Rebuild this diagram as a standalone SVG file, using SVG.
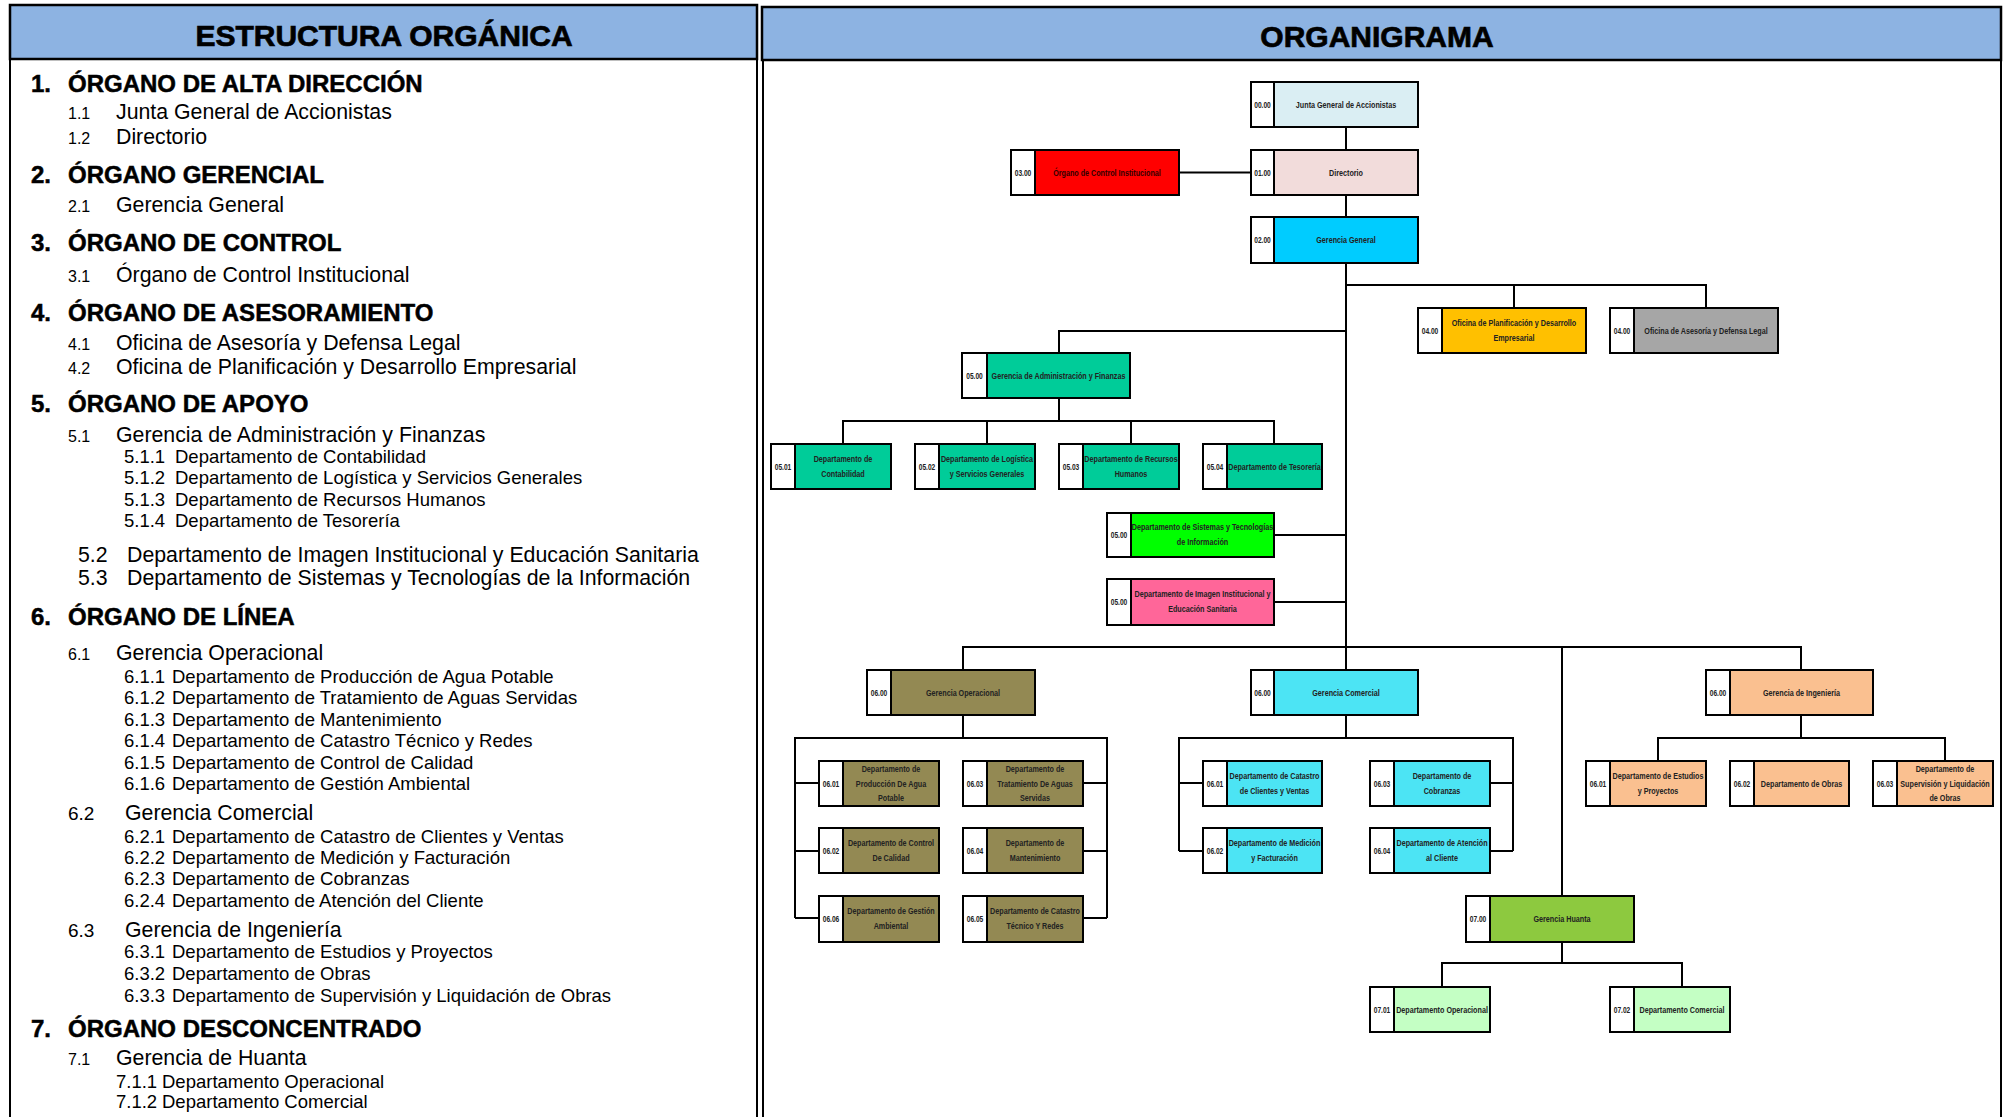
<svg xmlns="http://www.w3.org/2000/svg" width="2004" height="1117" viewBox="0 0 2004 1117">
<style>
.hdr{fill:#8DB3E2;stroke:#000;stroke-width:2.5}
.ht{font-family:"Liberation Sans",Arial,sans-serif;font-weight:bold;font-size:30px;fill:#000;stroke:#000;stroke-width:0.7;text-anchor:middle}
.bd{stroke:#000;stroke-width:2;fill:none}
.h1{font-family:"Liberation Sans",Arial,sans-serif;font-weight:bold;font-size:24px;fill:#000;stroke:#000;stroke-width:0.5}
.l2{font-family:"Liberation Sans",Arial,sans-serif;font-size:21.3px;fill:#000}
.n2{font-family:"Liberation Sans",Arial,sans-serif;font-size:16px;fill:#000}
.n2b{font-family:"Liberation Sans",Arial,sans-serif;font-size:19px;fill:#000}
.l3{font-family:"Liberation Sans",Arial,sans-serif;font-size:18.5px;fill:#000}
.ol{fill:none;stroke:#000;stroke-width:2}
.cc{fill:#fff}
.lb{font-family:"Liberation Sans",Arial,sans-serif;font-weight:bold;font-size:9px;fill:#222;text-anchor:middle}
.cd{font-family:"Liberation Sans",Arial,sans-serif;font-weight:bold;font-size:8.5px;fill:#222;text-anchor:middle}
.conn path{stroke:#000;stroke-width:2;fill:none}
</style>
<rect width="2004" height="1117" fill="#fff"/>
<g id="panels">
<rect class="hdr" x="10" y="5" width="747" height="54"/>
<rect class="hdr" x="762" y="7" width="1239" height="53"/>
<text class="ht" x="384" y="46">ESTRUCTURA ORGÁNICA</text>
<text class="ht" x="1377" y="47">ORGANIGRAMA</text>
<path class="bd" d="M10 59V1117M757 59V1117M763 60V1117M2001 60V1117"/>
</g>
<g id="estructura">
<text class="h1" x="31" y="92">1.</text><text class="h1" x="68" y="92">ÓRGANO DE ALTA DIRECCIÓN</text>
<text class="n2" x="68" y="119">1.1</text><text class="l2" x="116" y="119">Junta General de Accionistas</text>
<text class="n2" x="68" y="144">1.2</text><text class="l2" x="116" y="144">Directorio</text>
<text class="h1" x="31" y="183">2.</text><text class="h1" x="68" y="183">ÓRGANO GERENCIAL</text>
<text class="n2" x="68" y="212">2.1</text><text class="l2" x="116" y="212">Gerencia General</text>
<text class="h1" x="31" y="251">3.</text><text class="h1" x="68" y="251">ÓRGANO DE CONTROL</text>
<text class="n2" x="68" y="282">3.1</text><text class="l2" x="116" y="282">Órgano de Control Institucional</text>
<text class="h1" x="31" y="321">4.</text><text class="h1" x="68" y="321">ÓRGANO DE ASESORAMIENTO</text>
<text class="n2" x="68" y="350">4.1</text><text class="l2" x="116" y="350">Oficina de Asesoría y Defensa Legal</text>
<text class="n2" x="68" y="374">4.2</text><text class="l2" x="116" y="374">Oficina de Planificación y Desarrollo Empresarial</text>
<text class="h1" x="31" y="412">5.</text><text class="h1" x="68" y="412">ÓRGANO DE APOYO</text>
<text class="n2" x="68" y="442">5.1</text><text class="l2" x="116" y="442">Gerencia de Administración y Finanzas</text>
<text class="l3" x="124" y="463">5.1.1</text><text class="l3" x="175" y="463">Departamento de Contabilidad</text>
<text class="l3" x="124" y="484">5.1.2</text><text class="l3" x="175" y="484">Departamento de Logística y Servicios Generales</text>
<text class="l3" x="124" y="506">5.1.3</text><text class="l3" x="175" y="506">Departamento de Recursos Humanos</text>
<text class="l3" x="124" y="527">5.1.4</text><text class="l3" x="175" y="527">Departamento de Tesorería</text>
<text class="l2" x="78" y="562">5.2</text><text class="l2" x="127" y="562">Departamento de Imagen Institucional y Educación Sanitaria</text>
<text class="l2" x="78" y="585">5.3</text><text class="l2" x="127" y="585">Departamento de Sistemas y Tecnologías de la Información</text>
<text class="h1" x="31" y="625">6.</text><text class="h1" x="68" y="625">ÓRGANO DE LÍNEA</text>
<text class="n2" x="68" y="660">6.1</text><text class="l2" x="116" y="660">Gerencia Operacional</text>
<text class="l3" x="124" y="683">6.1.1</text><text class="l3" x="172" y="683">Departamento de Producción de Agua Potable</text>
<text class="l3" x="124" y="704">6.1.2</text><text class="l3" x="172" y="704">Departamento de Tratamiento de Aguas Servidas</text>
<text class="l3" x="124" y="726">6.1.3</text><text class="l3" x="172" y="726">Departamento de Mantenimiento</text>
<text class="l3" x="124" y="747">6.1.4</text><text class="l3" x="172" y="747">Departamento de Catastro Técnico y Redes</text>
<text class="l3" x="124" y="769">6.1.5</text><text class="l3" x="172" y="769">Departamento de Control de Calidad</text>
<text class="l3" x="124" y="790">6.1.6</text><text class="l3" x="172" y="790">Departamento de Gestión Ambiental</text>
<text class="n2b" x="68" y="820">6.2</text><text class="l2" x="125" y="820">Gerencia Comercial</text>
<text class="l3" x="124" y="843">6.2.1</text><text class="l3" x="172" y="843">Departamento de Catastro de Clientes y Ventas</text>
<text class="l3" x="124" y="864">6.2.2</text><text class="l3" x="172" y="864">Departamento de Medición y Facturación</text>
<text class="l3" x="124" y="885">6.2.3</text><text class="l3" x="172" y="885">Departamento de Cobranzas</text>
<text class="l3" x="124" y="907">6.2.4</text><text class="l3" x="172" y="907">Departamento de Atención del Cliente</text>
<text class="n2b" x="68" y="937">6.3</text><text class="l2" x="125" y="937">Gerencia de Ingeniería</text>
<text class="l3" x="124" y="958">6.3.1</text><text class="l3" x="172" y="958">Departamento de Estudios y Proyectos</text>
<text class="l3" x="124" y="980">6.3.2</text><text class="l3" x="172" y="980">Departamento de Obras</text>
<text class="l3" x="124" y="1002">6.3.3</text><text class="l3" x="172" y="1002">Departamento de Supervisión y Liquidación de Obras</text>
<text class="h1" x="31" y="1037">7.</text><text class="h1" x="68" y="1037">ÓRGANO DESCONCENTRADO</text>
<text class="n2" x="68" y="1065">7.1</text><text class="l2" x="116" y="1065">Gerencia de Huanta</text>
<text class="l3" x="116" y="1088">7.1.1</text><text class="l3" x="162" y="1088">Departamento Operacional</text>
<text class="l3" x="116" y="1108">7.1.2</text><text class="l3" x="162" y="1108">Departamento Comercial</text>
</g>
<g class="conn" id="connectors">
<path d="M1346 127V150M1179 172.5H1251M1346 195V217M1346 263V670"/>
<path d="M1346 285H1706V308M1514 285V308"/>
<path d="M1346 331H1059V353M1059 398V421M843 444V421H1274V444M987 421V444M1131 421V444"/>
<path d="M1274 535H1346M1274 602H1346"/>
<path d="M963 670V647H1801V670M1562 647V896"/>
<path d="M963 715V738M795 918V738H1107V918M795 783H819M795 851H819M795 918H819M1083 783H1107M1083 851H1107M1083 918H1107"/>
<path d="M1346 715V738M1179 851V738H1513V851M1179 783H1203M1179 851H1203M1490 783H1513M1490 851H1513"/>
<path d="M1801 715V738M1658 761V738H1945V761"/>
<path d="M1562 942V963M1442 987V963H1682V987"/>
</g>
<g id="n-junta"><rect x="1251" y="82" width="167" height="45" fill="#DAEEF3"/><rect class="cc" x="1251" y="82" width="23" height="45"/><rect class="ol" x="1251" y="82" width="167" height="45"/><path class="ol" d="M1274 82V127"/><text class="cd" transform="translate(1262.5 107.5) scale(0.78 1)">00.00</text><text class="lb" transform="translate(1346 107.5) scale(0.8 1)">Junta General de Accionistas</text></g>
<g id="n-directorio"><rect x="1251" y="150" width="167" height="45" fill="#F2DCDB"/><rect class="cc" x="1251" y="150" width="23" height="45"/><rect class="ol" x="1251" y="150" width="167" height="45"/><path class="ol" d="M1274 150V195"/><text class="cd" transform="translate(1262.5 175.5) scale(0.78 1)">01.00</text><text class="lb" transform="translate(1346 175.5) scale(0.8 1)">Directorio</text></g>
<g id="n-control"><rect x="1011" y="150" width="168" height="45" fill="#FF0000"/><rect class="cc" x="1011" y="150" width="24" height="45"/><rect class="ol" x="1011" y="150" width="168" height="45"/><path class="ol" d="M1035 150V195"/><text class="cd" transform="translate(1023 175.5) scale(0.78 1)">03.00</text><text class="lb" transform="translate(1107 175.5) scale(0.8 1)" style="fill:#300">Órgano de Control Institucional</text></g>
<g id="n-gerencia-general"><rect x="1251" y="217" width="167" height="46" fill="#00CCFF"/><rect class="cc" x="1251" y="217" width="23" height="46"/><rect class="ol" x="1251" y="217" width="167" height="46"/><path class="ol" d="M1274 217V263"/><text class="cd" transform="translate(1262.5 243) scale(0.78 1)">02.00</text><text class="lb" transform="translate(1346 243) scale(0.8 1)">Gerencia General</text></g>
<g id="n-planificacion"><rect x="1418" y="308" width="168" height="45" fill="#FFC000"/><rect class="cc" x="1418" y="308" width="24" height="45"/><rect class="ol" x="1418" y="308" width="168" height="45"/><path class="ol" d="M1442 308V353"/><text class="cd" transform="translate(1430 333.5) scale(0.78 1)">04.00</text><text class="lb" transform="translate(1514 326) scale(0.8 1)">Oficina de Planificación y Desarrollo</text><text class="lb" transform="translate(1514 341) scale(0.8 1)">Empresarial</text></g>
<g id="n-asesoria"><rect x="1610" y="308" width="168" height="45" fill="#A6A6A6"/><rect class="cc" x="1610" y="308" width="24" height="45"/><rect class="ol" x="1610" y="308" width="168" height="45"/><path class="ol" d="M1634 308V353"/><text class="cd" transform="translate(1622 333.5) scale(0.78 1)">04.00</text><text class="lb" transform="translate(1706 333.5) scale(0.8 1)">Oficina de Asesoría y Defensa Legal</text></g>
<g id="n-admin"><rect x="962" y="353" width="168" height="45" fill="#00CC99"/><rect class="cc" x="962" y="353" width="25" height="45"/><rect class="ol" x="962" y="353" width="168" height="45"/><path class="ol" d="M987 353V398"/><text class="cd" transform="translate(974.5 378.5) scale(0.78 1)">05.00</text><text class="lb" transform="translate(1058.5 378.5) scale(0.8 1)">Gerencia de Administración y Finanzas</text></g>
<g id="n-contabilidad"><rect x="771" y="444" width="120" height="45" fill="#00CC99"/><rect class="cc" x="771" y="444" width="24" height="45"/><rect class="ol" x="771" y="444" width="120" height="45"/><path class="ol" d="M795 444V489"/><text class="cd" transform="translate(783 469.5) scale(0.78 1)">05.01</text><text class="lb" transform="translate(843 462) scale(0.8 1)">Departamento de</text><text class="lb" transform="translate(843 477) scale(0.8 1)">Contabilidad</text></g>
<g id="n-logistica"><rect x="915" y="444" width="120" height="45" fill="#00CC99"/><rect class="cc" x="915" y="444" width="24" height="45"/><rect class="ol" x="915" y="444" width="120" height="45"/><path class="ol" d="M939 444V489"/><text class="cd" transform="translate(927 469.5) scale(0.78 1)">05.02</text><text class="lb" transform="translate(987 462) scale(0.8 1)">Departamento de Logística</text><text class="lb" transform="translate(987 477) scale(0.8 1)">y Servicios Generales</text></g>
<g id="n-rrhh"><rect x="1059" y="444" width="120" height="45" fill="#00CC99"/><rect class="cc" x="1059" y="444" width="24" height="45"/><rect class="ol" x="1059" y="444" width="120" height="45"/><path class="ol" d="M1083 444V489"/><text class="cd" transform="translate(1071 469.5) scale(0.78 1)">05.03</text><text class="lb" transform="translate(1131 462) scale(0.8 1)">Departamento de Recursos</text><text class="lb" transform="translate(1131 477) scale(0.8 1)">Humanos</text></g>
<g id="n-tesoreria"><rect x="1203" y="444" width="119" height="45" fill="#00CC99"/><rect class="cc" x="1203" y="444" width="24" height="45"/><rect class="ol" x="1203" y="444" width="119" height="45"/><path class="ol" d="M1227 444V489"/><text class="cd" transform="translate(1215 469.5) scale(0.78 1)">05.04</text><text class="lb" transform="translate(1274.5 469.5) scale(0.8 1)">Departamento de Tesorería</text></g>
<g id="n-sistemas"><rect x="1107" y="513" width="167" height="44" fill="#00FF00"/><rect class="cc" x="1107" y="513" width="24" height="44"/><rect class="ol" x="1107" y="513" width="167" height="44"/><path class="ol" d="M1131 513V557"/><text class="cd" transform="translate(1119 538) scale(0.78 1)">05.00</text><text class="lb" transform="translate(1202.5 530) scale(0.8 1)">Departamento de Sistemas y Tecnologías</text><text class="lb" transform="translate(1202.5 545) scale(0.8 1)">de Información</text></g>
<g id="n-imagen"><rect x="1107" y="579" width="167" height="46" fill="#FF6699"/><rect class="cc" x="1107" y="579" width="24" height="46"/><rect class="ol" x="1107" y="579" width="167" height="46"/><path class="ol" d="M1131 579V625"/><text class="cd" transform="translate(1119 605) scale(0.78 1)">05.00</text><text class="lb" transform="translate(1202.5 597) scale(0.8 1)">Departamento de Imagen Institucional y</text><text class="lb" transform="translate(1202.5 612) scale(0.8 1)">Educación Sanitaria</text></g>
<g id="n-operacional"><rect x="867" y="670" width="168" height="45" fill="#938953"/><rect class="cc" x="867" y="670" width="24" height="45"/><rect class="ol" x="867" y="670" width="168" height="45"/><path class="ol" d="M891 670V715"/><text class="cd" transform="translate(879 695.5) scale(0.78 1)">06.00</text><text class="lb" transform="translate(963 695.5) scale(0.8 1)">Gerencia Operacional</text></g>
<g id="n-op-0601"><rect x="819" y="761" width="120" height="45" fill="#938953"/><rect class="cc" x="819" y="761" width="24" height="45"/><rect class="ol" x="819" y="761" width="120" height="45"/><path class="ol" d="M843 761V806"/><text class="cd" transform="translate(831 786.5) scale(0.78 1)">06.01</text><text class="lb" transform="translate(891 772) scale(0.8 1)">Departamento de</text><text class="lb" transform="translate(891 786.5) scale(0.8 1)">Producción De Agua</text><text class="lb" transform="translate(891 801) scale(0.8 1)">Potable</text></g>
<g id="n-op-0603"><rect x="963" y="761" width="120" height="45" fill="#938953"/><rect class="cc" x="963" y="761" width="24" height="45"/><rect class="ol" x="963" y="761" width="120" height="45"/><path class="ol" d="M987 761V806"/><text class="cd" transform="translate(975 786.5) scale(0.78 1)">06.03</text><text class="lb" transform="translate(1035 772) scale(0.8 1)">Departamento de</text><text class="lb" transform="translate(1035 786.5) scale(0.8 1)">Tratamiento De Aguas</text><text class="lb" transform="translate(1035 801) scale(0.8 1)">Servidas</text></g>
<g id="n-op-0602"><rect x="819" y="828" width="120" height="45" fill="#938953"/><rect class="cc" x="819" y="828" width="24" height="45"/><rect class="ol" x="819" y="828" width="120" height="45"/><path class="ol" d="M843 828V873"/><text class="cd" transform="translate(831 853.5) scale(0.78 1)">06.02</text><text class="lb" transform="translate(891 846) scale(0.8 1)">Departamento de Control</text><text class="lb" transform="translate(891 861) scale(0.8 1)">De Calidad</text></g>
<g id="n-op-0604"><rect x="963" y="828" width="120" height="45" fill="#938953"/><rect class="cc" x="963" y="828" width="24" height="45"/><rect class="ol" x="963" y="828" width="120" height="45"/><path class="ol" d="M987 828V873"/><text class="cd" transform="translate(975 853.5) scale(0.78 1)">06.04</text><text class="lb" transform="translate(1035 846) scale(0.8 1)">Departamento de</text><text class="lb" transform="translate(1035 861) scale(0.8 1)">Mantenimiento</text></g>
<g id="n-op-0606"><rect x="819" y="896" width="120" height="46" fill="#938953"/><rect class="cc" x="819" y="896" width="24" height="46"/><rect class="ol" x="819" y="896" width="120" height="46"/><path class="ol" d="M843 896V942"/><text class="cd" transform="translate(831 922) scale(0.78 1)">06.06</text><text class="lb" transform="translate(891 914) scale(0.8 1)">Departamento de Gestión</text><text class="lb" transform="translate(891 929) scale(0.8 1)">Ambiental</text></g>
<g id="n-op-0605"><rect x="963" y="896" width="120" height="46" fill="#938953"/><rect class="cc" x="963" y="896" width="24" height="46"/><rect class="ol" x="963" y="896" width="120" height="46"/><path class="ol" d="M987 896V942"/><text class="cd" transform="translate(975 922) scale(0.78 1)">06.05</text><text class="lb" transform="translate(1035 914) scale(0.8 1)">Departamento de Catastro</text><text class="lb" transform="translate(1035 929) scale(0.8 1)">Técnico Y Redes</text></g>
<g id="n-comercial"><rect x="1251" y="670" width="167" height="45" fill="#4CE4F4"/><rect class="cc" x="1251" y="670" width="23" height="45"/><rect class="ol" x="1251" y="670" width="167" height="45"/><path class="ol" d="M1274 670V715"/><text class="cd" transform="translate(1262.5 695.5) scale(0.78 1)">06.00</text><text class="lb" transform="translate(1346 695.5) scale(0.8 1)">Gerencia Comercial</text></g>
<g id="n-co-0601"><rect x="1203" y="761" width="119" height="45" fill="#4CE4F4"/><rect class="cc" x="1203" y="761" width="24" height="45"/><rect class="ol" x="1203" y="761" width="119" height="45"/><path class="ol" d="M1227 761V806"/><text class="cd" transform="translate(1215 786.5) scale(0.78 1)">06.01</text><text class="lb" transform="translate(1274.5 779) scale(0.8 1)">Departamento de Catastro</text><text class="lb" transform="translate(1274.5 794) scale(0.8 1)">de Clientes y Ventas</text></g>
<g id="n-co-0603"><rect x="1370" y="761" width="120" height="45" fill="#4CE4F4"/><rect class="cc" x="1370" y="761" width="24" height="45"/><rect class="ol" x="1370" y="761" width="120" height="45"/><path class="ol" d="M1394 761V806"/><text class="cd" transform="translate(1382 786.5) scale(0.78 1)">06.03</text><text class="lb" transform="translate(1442 779) scale(0.8 1)">Departamento de</text><text class="lb" transform="translate(1442 794) scale(0.8 1)">Cobranzas</text></g>
<g id="n-co-0602"><rect x="1203" y="828" width="119" height="45" fill="#4CE4F4"/><rect class="cc" x="1203" y="828" width="24" height="45"/><rect class="ol" x="1203" y="828" width="119" height="45"/><path class="ol" d="M1227 828V873"/><text class="cd" transform="translate(1215 853.5) scale(0.78 1)">06.02</text><text class="lb" transform="translate(1274.5 846) scale(0.8 1)">Departamento de Medición</text><text class="lb" transform="translate(1274.5 861) scale(0.8 1)">y Facturación</text></g>
<g id="n-co-0604"><rect x="1370" y="828" width="120" height="45" fill="#4CE4F4"/><rect class="cc" x="1370" y="828" width="24" height="45"/><rect class="ol" x="1370" y="828" width="120" height="45"/><path class="ol" d="M1394 828V873"/><text class="cd" transform="translate(1382 853.5) scale(0.78 1)">06.04</text><text class="lb" transform="translate(1442 846) scale(0.8 1)">Departamento de Atención</text><text class="lb" transform="translate(1442 861) scale(0.8 1)">al Cliente</text></g>
<g id="n-ingenieria"><rect x="1706" y="670" width="167" height="45" fill="#FAC090"/><rect class="cc" x="1706" y="670" width="24" height="45"/><rect class="ol" x="1706" y="670" width="167" height="45"/><path class="ol" d="M1730 670V715"/><text class="cd" transform="translate(1718 695.5) scale(0.78 1)">06.00</text><text class="lb" transform="translate(1801.5 695.5) scale(0.8 1)">Gerencia de Ingeniería</text></g>
<g id="n-in-0601"><rect x="1586" y="761" width="120" height="45" fill="#FAC090"/><rect class="cc" x="1586" y="761" width="24" height="45"/><rect class="ol" x="1586" y="761" width="120" height="45"/><path class="ol" d="M1610 761V806"/><text class="cd" transform="translate(1598 786.5) scale(0.78 1)">06.01</text><text class="lb" transform="translate(1658 779) scale(0.8 1)">Departamento de Estudios</text><text class="lb" transform="translate(1658 794) scale(0.8 1)">y Proyectos</text></g>
<g id="n-in-0602"><rect x="1730" y="761" width="119" height="45" fill="#FAC090"/><rect class="cc" x="1730" y="761" width="24" height="45"/><rect class="ol" x="1730" y="761" width="119" height="45"/><path class="ol" d="M1754 761V806"/><text class="cd" transform="translate(1742 786.5) scale(0.78 1)">06.02</text><text class="lb" transform="translate(1801.5 786.5) scale(0.8 1)">Departamento de Obras</text></g>
<g id="n-in-0603"><rect x="1873" y="761" width="120" height="45" fill="#FAC090"/><rect class="cc" x="1873" y="761" width="24" height="45"/><rect class="ol" x="1873" y="761" width="120" height="45"/><path class="ol" d="M1897 761V806"/><text class="cd" transform="translate(1885 786.5) scale(0.78 1)">06.03</text><text class="lb" transform="translate(1945 772) scale(0.8 1)">Departamento de</text><text class="lb" transform="translate(1945 786.5) scale(0.8 1)">Supervisión y Liquidación</text><text class="lb" transform="translate(1945 801) scale(0.8 1)">de Obras</text></g>
<g id="n-huanta"><rect x="1466" y="896" width="168" height="46" fill="#8DC93F"/><rect class="cc" x="1466" y="896" width="24" height="46"/><rect class="ol" x="1466" y="896" width="168" height="46"/><path class="ol" d="M1490 896V942"/><text class="cd" transform="translate(1478 922) scale(0.78 1)">07.00</text><text class="lb" transform="translate(1562 922) scale(0.8 1)">Gerencia Huanta</text></g>
<g id="n-hu-0701"><rect x="1370" y="987" width="120" height="45" fill="#C4FFC4"/><rect class="cc" x="1370" y="987" width="24" height="45"/><rect class="ol" x="1370" y="987" width="120" height="45"/><path class="ol" d="M1394 987V1032"/><text class="cd" transform="translate(1382 1012.5) scale(0.78 1)">07.01</text><text class="lb" transform="translate(1442 1012.5) scale(0.8 1)">Departamento Operacional</text></g>
<g id="n-hu-0702"><rect x="1610" y="987" width="120" height="45" fill="#C4FFC4"/><rect class="cc" x="1610" y="987" width="24" height="45"/><rect class="ol" x="1610" y="987" width="120" height="45"/><path class="ol" d="M1634 987V1032"/><text class="cd" transform="translate(1622 1012.5) scale(0.78 1)">07.02</text><text class="lb" transform="translate(1682 1012.5) scale(0.8 1)">Departamento Comercial</text></g>
</svg>
